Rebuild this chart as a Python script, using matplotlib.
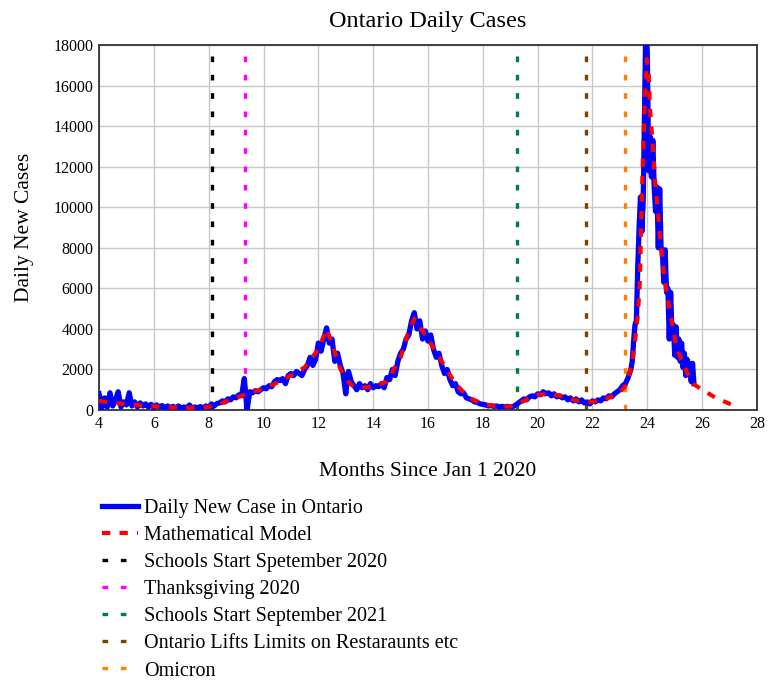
import numpy as np
import matplotlib
matplotlib.use("Agg")
import matplotlib.pyplot as plt

plt.rcParams['font.family'] = ['Liberation Serif', 'DejaVu Serif']

# Daily cases: every 0.1 month from 4.0 to 23.3,
# then every 0.05 month from 23.4 to 25.7
cases_coarse = [
    800, 100, 600, 150, 850, 200, 500, 900, 150, 400,
    250, 850, 200, 400, 150, 350, 200, 300, 150, 280,
    120, 250, 150, 220, 100, 200, 120, 180, 100, 200,
    80, 150, 100, 250, 80, 150, 100, 170, 90, 200,
    120, 300, 200, 320, 350, 450, 400, 550, 500, 650,
    600, 750, 700, 1550, 0, 900, 850, 950, 900, 1000,
    1100, 1050, 1200, 1150, 1400, 1500, 1450, 1550, 1300, 1700,
    1800, 1700, 1900, 1800, 1700, 2000, 2200, 2600, 2200, 2500,
    3300, 2900, 3500, 4050, 3300, 3500, 2400, 2800, 2200, 1800,
    800, 1900, 1400, 1200, 1000, 1300, 1100, 1200, 1000, 1300,
    1100, 1200, 1150, 1300, 1100, 1600, 1500, 2000, 1700, 2400,
    2800, 3000, 3500, 3700, 4400, 4800, 4000, 4400, 3500, 3900,
    3400, 3700, 3000, 2600, 2800, 2200, 1800, 2000, 1500, 1200,
    1300, 900, 800, 850, 600, 550, 500, 400, 380, 300,
    280, 250, 200, 220, 180, 200, 150, 180, 160, 180,
    150, 170, 250, 350, 450, 550, 500, 650, 700, 650,
    800, 750, 900, 800, 850, 700, 800, 650, 700, 600,
    650, 500, 600, 450, 550, 400, 500, 350, 400, 300,
    450, 400, 500, 450, 600, 550, 700, 650, 800, 900,
    1000, 1200, 1300, 1600,
]
cases_fine = [
    2000, 2400, 3400, 4200, 4400, 7000, 9000, 10500, 8800, 10300,
    15000, 19500, 17500, 11800, 13500, 11500, 13300, 11000, 9800, 11000,
    8000, 10900, 8000, 7800, 6300, 7900, 5800, 6000, 3500, 5800,
    3800, 4200, 2700, 4100, 2600, 3500, 2400, 3300, 2100, 2800,
    1700, 2500, 1800, 2300, 1400, 2300, 1300,
]

# Mathematical model (red dashed)
model_months = [
    4.0, 4.5, 5.0, 5.5, 6.0, 6.5, 7.0, 7.5, 8.0, 8.5,
    9.0, 9.5, 10.0, 10.5, 11.0, 11.5, 12.0, 12.3, 12.5, 12.75,
    13.0, 13.25, 13.5, 14.0, 14.5, 15.0, 15.25, 15.5, 15.75, 16.0,
    16.5, 17.0, 17.5, 18.0, 18.5, 19.0, 19.5, 20.0, 20.5, 21.0,
    21.5, 22.0, 22.5, 23.0, 23.2, 23.3, 23.45, 23.6, 23.66, 23.73,
    23.77, 23.85, 23.92, 23.98, 24.05, 24.1, 24.2, 24.27, 24.38, 24.53,
    24.7, 24.9, 25.08, 25.4, 25.66, 26.0, 26.5, 27.1,
]
model_cases = [
    450, 350, 300, 230, 180, 140, 120, 110, 150, 350,
    600, 850, 1050, 1350, 1700, 2100, 3000, 4000, 3300, 2200,
    1500, 1200, 1100, 1150, 1400, 2600, 3700, 4500, 4000, 3500,
    2400, 1300, 600, 300, 180, 170, 450, 750, 800, 650,
    450, 400, 550, 850, 1200, 1600, 2300, 4000, 4800, 6400,
    8900, 13000, 15500, 17300, 16500, 14800, 13000, 11500, 9900, 7500,
    5800, 4300, 3000, 2000, 1300, 1000, 600, 250,
]

# Events (months since Jan 1 2020)
event_labels = ["Schools Start Spetember 2020", "Thanksgiving 2020",
                "Schools Start September 2021",
                "Ontario Lifts Limits on Restaraunts etc", "Omicron"]
event_months = [8.12, 9.33, 19.25, 21.77, 23.2]
event_colors = ["black", "magenta", "#008040", "#804000", "#ff8000"]

months = np.concatenate([4.0 + 0.1 * np.arange(len(cases_coarse)),
                         23.4 + 0.05 * np.arange(len(cases_fine))])
cases = np.array(cases_coarse + cases_fine)

fig = plt.figure(figsize=(7.7, 6.86), dpi=100)
ax = fig.add_axes([0.1286, 0.4023, 0.8545, 0.5321])

ax.plot(months, cases, color="blue", lw=3.8, solid_joinstyle="round",
        label="Daily New Case in Ontario", zorder=3)
ax.plot(model_months, model_cases, color="red", lw=3, ls=(0, (2, 2.2)),
        label="Mathematical Model", zorder=4)
for m, c, lab in zip(event_months, event_colors, event_labels):
    ax.axvline(m, color=c, lw=2.4, ls=(0, (1.7, 3.8)), label=lab, zorder=2)

ax.set_xlim(4, 28)
ax.set_ylim(0, 18000)
ax.set_xticks(range(4, 29, 2))
ax.set_yticks(range(0, 18001, 2000))
ax.grid(True, color="#c8c8c8", lw=1)
ax.set_axisbelow(True)
ax.tick_params(length=0, labelsize=11.5, pad=4)
for s in ax.spines.values():
    s.set_color("#333333")
    s.set_linewidth(1.3)

ax.set_title("Ontario Daily Cases", fontsize=17.5, pad=13)
ax.set_xlabel("Months Since Jan 1 2020", fontsize=15.5, labelpad=22)
ax.set_ylabel("Daily New Cases", fontsize=15.5, labelpad=14)

fig.legend(loc="upper left", bbox_to_anchor=(0.12, 0.288), frameon=False,
           fontsize=14.5, handlelength=1.75, handletextpad=0.3,
           labelspacing=0.4, borderpad=0)

fig.savefig("out.png", dpi=100)
